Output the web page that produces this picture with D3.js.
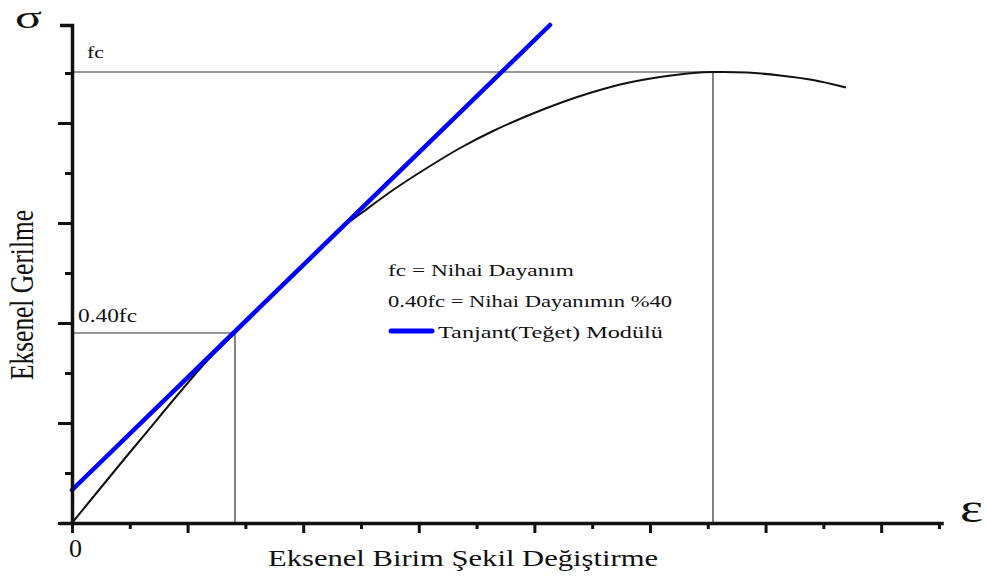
<!DOCTYPE html>
<html>
<head>
<meta charset="utf-8">
<script src="https://cdn.jsdelivr.net/npm/d3@7"></script>
<style>
  html, body { margin: 0; padding: 0; background: #fff; }
  svg { display: block; }
  text { font-family: "Liberation Serif", serif; fill: #111; }
</style>
</head>
<body>
<svg id="chart" width="987" height="578" font-family="Liberation Serif, serif"></svg>
<script>
// Axial strain (‰) and axial stress (MPa) of the stress–strain curve
const curveStrain = [0, 0.23, 0.47, 0.564, 0.789, 0.927, 0.997, 1.111, 1.228, 1.343, 1.457, 1.574, 1.689, 1.803, 1.920, 2.035, 2.149, 2.218, 2.336, 2.450, 2.564, 2.678];
const curveStress = [0, 8.1, 16.3, 19.0, 25.5, 29.4, 30.9, 33.3, 35.5, 37.5, 39.2, 40.7, 42.0, 43.1, 44.0, 44.6, 45.0, 45.1, 45.05, 44.75, 44.3, 43.55];

// Tangent modulus line end points
const tangentStrain = [0, 1.654];
const tangentStress = [3.3, 49.8];

// Reference levels
const fcStress = 45.1;      // fc = ultimate strength
const fcStrain = 2.218;
const fc40Stress = 19.0;    // 0.40fc level
const fc40Strain = 0.564;

// Axis ticks
const strainMajor = [0, 0.4, 0.8, 1.2, 1.6, 2.0, 2.4, 2.8];
const strainMinor = [0.2, 0.6, 1.0, 1.4, 1.8, 2.2, 2.6, 3.0];
const stressMajor = [0, 10, 20, 30, 40];
const stressMinor = [5, 15, 25, 35, 45];
const strainTickLabels = ["0", "", "", "", "", "", "", ""];

// Legend entries
const legendTexts = ["fc = Nihai Dayanım", "0.40fc = Nihai Dayanımın %40", "Tanjant(Teğet) Modülü"];

const svg = d3.select("#chart");
svg.append("rect").attr("width", 987).attr("height", 578).attr("fill", "#fff");

const x = d3.scaleLinear().domain([0, 3.015]).range([72, 943.3]);
const y = d3.scaleLinear().domain([0, 49.8]).range([523, 25]);

const ink = "#111";

// Reference lines for fc and 0.40fc
const refG = svg.append("g").attr("stroke", "#333").attr("stroke-width", 1.2).attr("fill", "none");
refG.append("path").attr("d", `M${x(0)},${y(fcStress)}H${x(fcStrain)}V${y(0)}`);
refG.append("path").attr("d", `M${x(0)},${y(fc40Stress)}H${x(fc40Strain)}V${y(0)}`);

// Stress–strain curve
const pts = curveStrain.map((e, i) => [e, curveStress[i]]);
svg.append("path")
  .datum(pts)
  .attr("fill", "none")
  .attr("stroke", ink)
  .attr("stroke-width", 2)
  .attr("stroke-linejoin", "round")
  .attr("d", d3.line().x(d => x(d[0])).y(d => y(d[1])).curve(d3.curveCatmullRom.alpha(0.5)));

// Tangent modulus line
const tan = tangentStrain.map((e, i) => [e, tangentStress[i]]);
svg.append("path")
  .datum(tan)
  .attr("fill", "none")
  .attr("stroke", "#0000fe")
  .attr("stroke-width", 4.5)
  .attr("stroke-linecap", "round")
  .attr("d", d3.line().x(d => x(d[0])).y(d => y(d[1])));

// Y axis: major + minor ticks
const yMajor = svg.append("g").attr("transform", `translate(${x(0)},0)`)
  .call(d3.axisLeft(y).tickValues(stressMajor).tickSize(14).tickSizeOuter(12).tickFormat(""));
const yMinor = svg.append("g").attr("transform", `translate(${x(0)},0)`)
  .call(d3.axisLeft(y).tickValues(stressMinor).tickSize(7).tickFormat(""));
yMinor.select(".domain").remove();

// X axis: major + minor ticks
const xMajor = svg.append("g").attr("transform", `translate(0,${y(0)})`)
  .call(d3.axisBottom(x).tickValues(strainMajor).tickSize(10).tickSizeOuter(0).tickPadding(6)
    .tickFormat((d, i) => strainTickLabels[i]));
const xMinor = svg.append("g").attr("transform", `translate(0,${y(0)})`)
  .call(d3.axisBottom(x).tickValues(strainMinor).tickSize(6).tickFormat(""));
xMinor.select(".domain").remove();

[yMajor, yMinor, xMajor, xMinor].forEach(g => {
  g.attr("font-family", "Liberation Serif, serif");
  g.selectAll(".domain").attr("stroke", ink).attr("stroke-width", 3.5);
  g.selectAll(".tick line").attr("stroke", ink).attr("stroke-width", 3);
});
xMajor.selectAll(".tick text")
  .attr("font-size", 26)
  .attr("fill", ink)
  .attr("dx", 3);

// Axis symbols
svg.append("text").attr("x", 15).attr("y", 28).attr("font-size", 32)
  .attr("textLength", 27).attr("lengthAdjust", "spacingAndGlyphs").text("σ");
svg.append("text").attr("x", 960).attr("y", 522).attr("font-size", 40)
  .attr("textLength", 23).attr("lengthAdjust", "spacingAndGlyphs").text("ε");

// Axis titles
svg.append("text").attr("x", 268).attr("y", 566).attr("font-size", 24)
  .attr("textLength", 390).attr("lengthAdjust", "spacingAndGlyphs")
  .text("Eksenel Birim Şekil Değiştirme");
svg.append("text").attr("transform", "translate(33,295) rotate(-90)")
  .attr("text-anchor", "middle").attr("font-size", 33)
  .attr("textLength", 170).attr("lengthAdjust", "spacingAndGlyphs")
  .text("Eksenel Gerilme");

// Level labels
svg.append("text").attr("x", 87).attr("y", 58).attr("font-size", 16)
  .attr("textLength", 17).attr("lengthAdjust", "spacingAndGlyphs").text("fc");
svg.append("text").attr("x", 78).attr("y", 322).attr("font-size", 18)
  .attr("textLength", 59).attr("lengthAdjust", "spacingAndGlyphs").text("0.40fc");

// Legend
const legend = svg.append("g");
legend.append("text").attr("x", 388).attr("y", 276).attr("font-size", 17)
  .attr("textLength", 186).attr("lengthAdjust", "spacingAndGlyphs").text(legendTexts[0]);
legend.append("text").attr("x", 388).attr("y", 307).attr("font-size", 17)
  .attr("textLength", 284).attr("lengthAdjust", "spacingAndGlyphs").text(legendTexts[1]);
legend.append("line").attr("x1", 391).attr("x2", 432).attr("y1", 331).attr("y2", 331)
  .attr("stroke", "#0000fe").attr("stroke-width", 5).attr("stroke-linecap", "round");
legend.append("text").attr("x", 438).attr("y", 338).attr("font-size", 17)
  .attr("textLength", 225).attr("lengthAdjust", "spacingAndGlyphs").text(legendTexts[2]);
</script>
</body>
</html>
